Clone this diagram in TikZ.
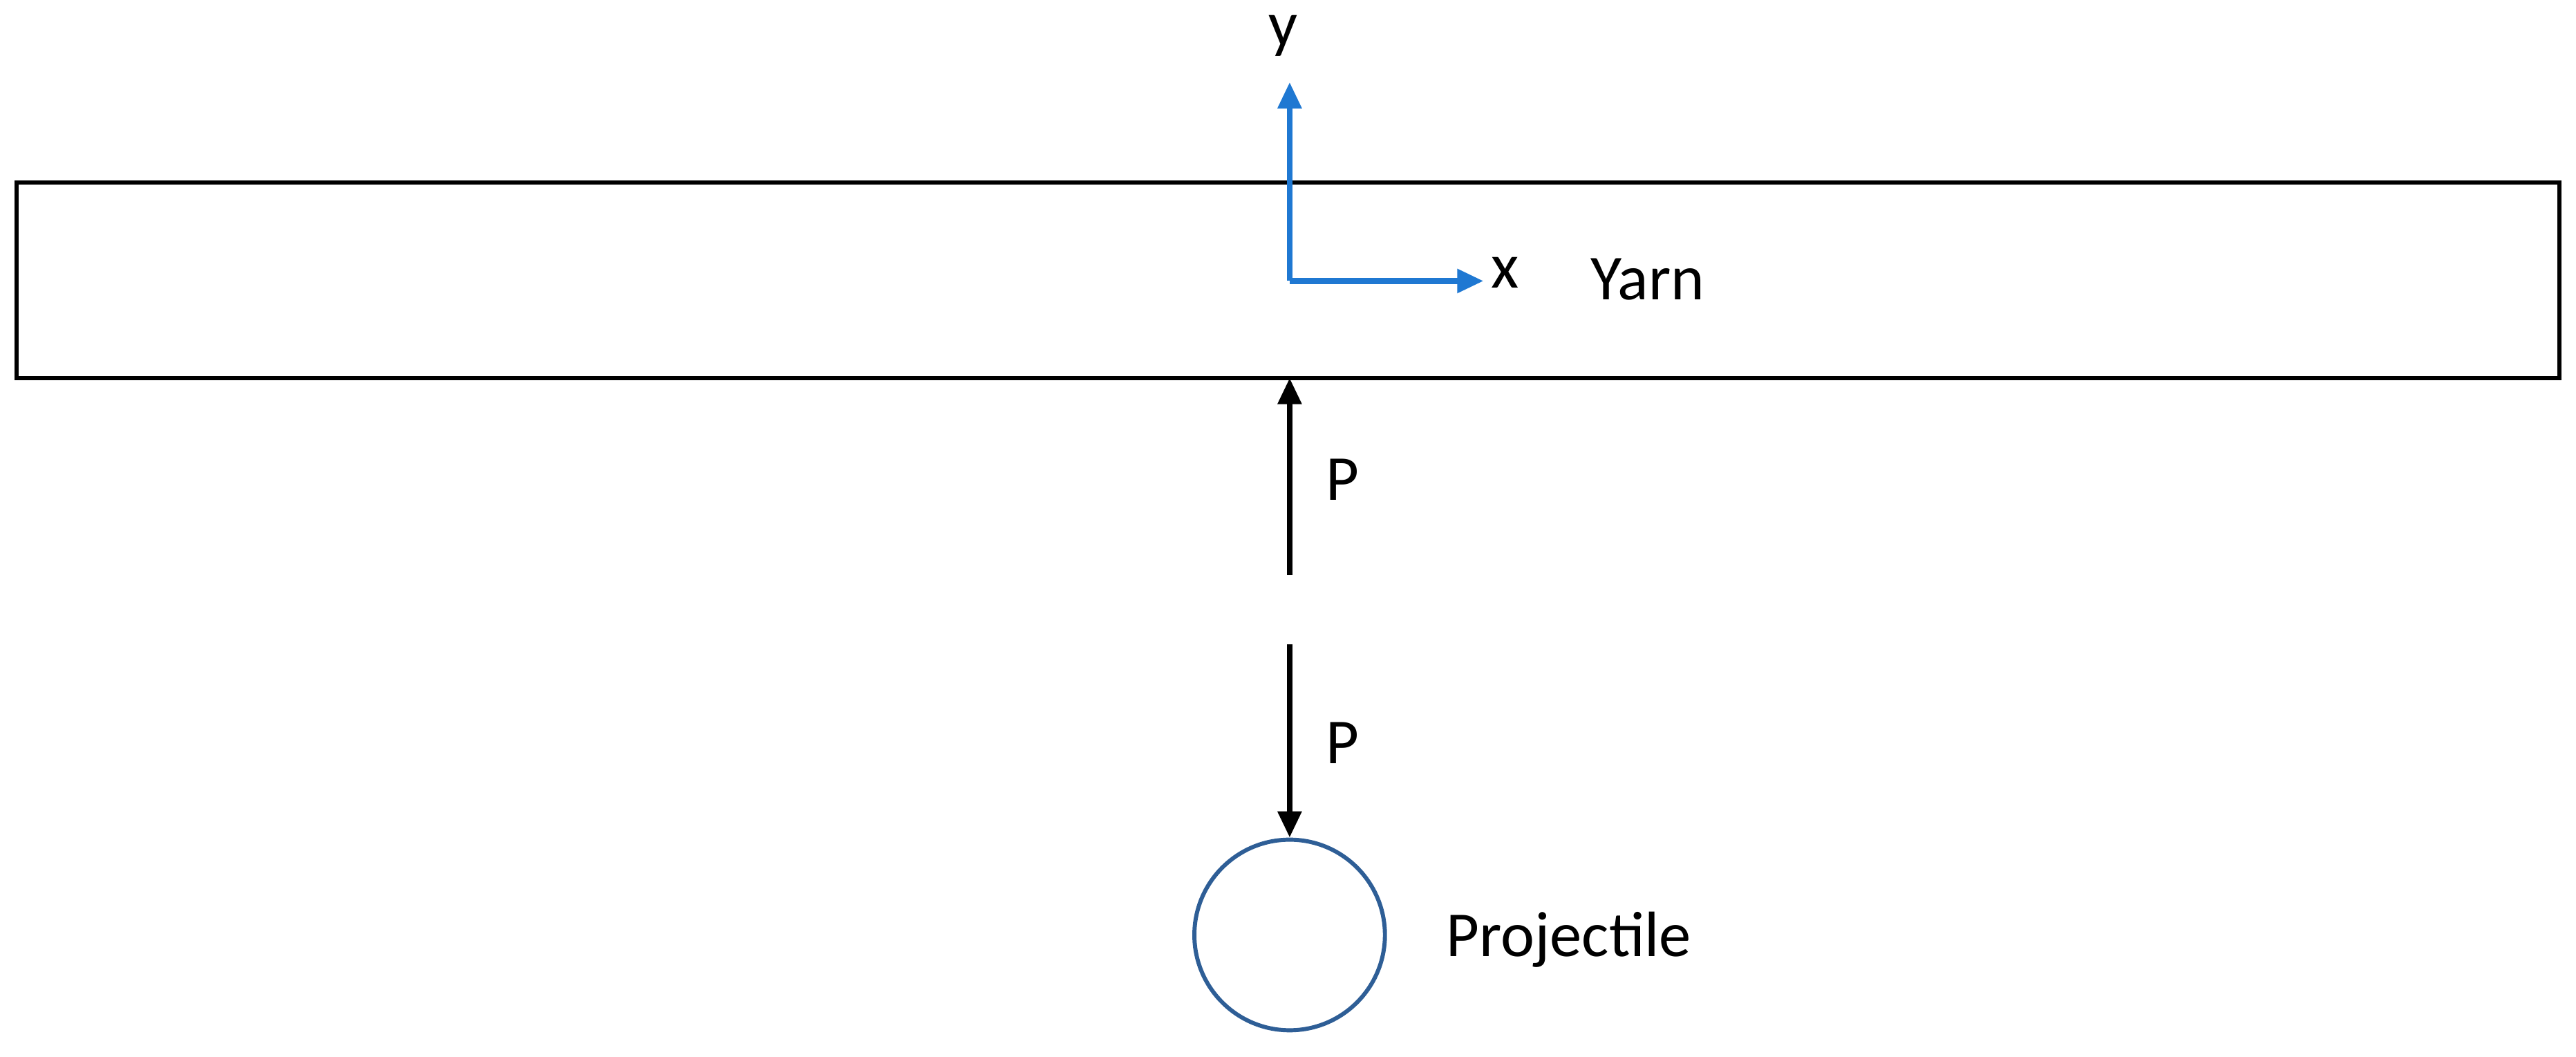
\documentclass[tikz,border=0pt]{standalone}
\usepackage{fontspec}
\setmainfont{Carlito}
\usetikzlibrary{arrows.meta}
\definecolor{axblue}{RGB}{31,120,210}
\definecolor{circblue}{RGB}{46,94,150}
\begin{document}
\begin{tikzpicture}[x=1pt,y=-1pt,
  lbl/.style={inner sep=0pt,font=\fontsize{39}{44}\selectfont},
  force/.style={line width=3.5pt,-{Triangle[length=16pt,width=14pt]}},
  axis/.style={line width=3.5pt,axblue,-{Triangle[length=16pt,width=14pt]}}]
\useasboundingbox (0,0) rectangle (1568,643);
\node[draw,line width=2.5pt,minimum width=1548pt,minimum height=119pt,inner sep=0pt] (yarn) at (784,170.5) {};
\coordinate (o) at (785,171);
\coordinate (ya) at (785,50);
\coordinate (xa) at (903,171);
\draw[axis] (o) -- (ya);
\draw[axis] (o) -- (xa);
\node[lbl] (ly) at (781,22) {y};
\node[lbl] (lx) at (916,166) {x};
\node[lbl] (lyarn) at (1003,170) {Yarn};
\coordinate (p1s) at (785,350);
\coordinate (p1e) at (785,230);
\draw[force] (p1s) -- (p1e);
\node[lbl] (lp1) at (817,292) {P};
\node[draw=circblue,line width=2.5pt,circle,minimum size=116pt,inner sep=0pt] (proj) at (785,569) {};
\coordinate (p2s) at (785,392);
\draw[force] (p2s) -- (proj.north);
\node[lbl] (lp2) at (817,452) {P};
\node[lbl] (lproj) at (955,572) {Projectile};
\end{tikzpicture}
\end{document}
